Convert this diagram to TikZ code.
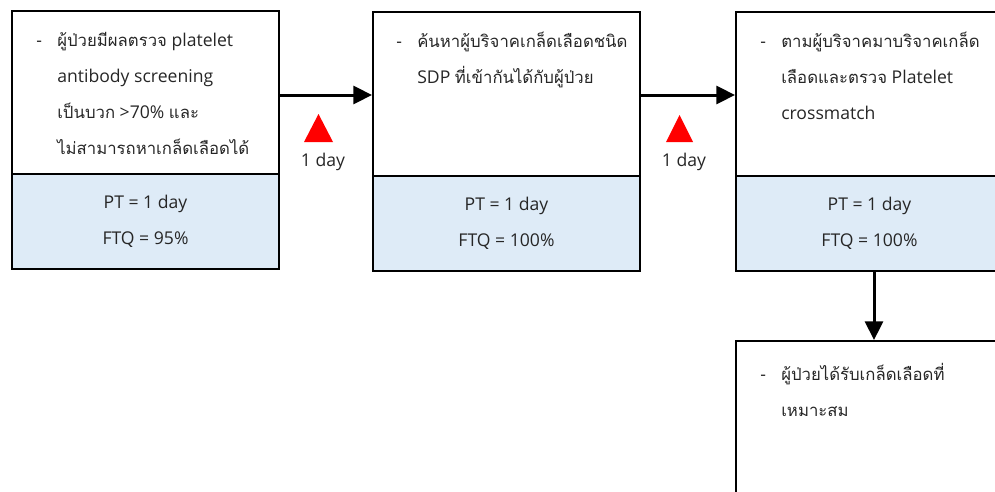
\documentclass[tikz,border=0pt]{standalone}
\usepackage{fontspec}
\setmainfont{Open Sans}
\newfontfamily\thaifont[Script=Thai,Scale=0.95]{Loma}
\newfontfamily\latinfont{Open Sans}
\XeTeXinterchartokenstate=1
\newXeTeXintercharclass\thaiclass
\count255="0E00
\loop\ifnum\count255<"0E80
  \XeTeXcharclass\count255=\thaiclass
  \advance\count255 by 1
\repeat
\XeTeXinterchartoks 0 \thaiclass = {\thaifont}
\XeTeXinterchartoks 4095 \thaiclass = {\thaifont}
\XeTeXinterchartoks \thaiclass 0 = {\latinfont}
\XeTeXinterchartoks \thaiclass 4095 = {\latinfont}
\usetikzlibrary{arrows.meta}
\definecolor{boxblue}{HTML}{DEEBF7}
\begin{document}
\begin{tikzpicture}[x=0.75pt,y=-0.75pt,
  every node/.style={font=\fontsize{13.2}{27}\selectfont, text=black!85},
  upper/.style={draw, line width=1.5pt, minimum width=200.25pt, inner sep=0pt, anchor=north west},
  lower/.style={draw, line width=1.5pt, fill=boxblue, minimum width=200.25pt, minimum height=71.25pt, inner sep=0pt, anchor=north west, align=center},
  txt/.style={anchor=north west, align=left, inner sep=0pt},
  flow/.style={line width=2.25pt, -{Triangle[length=14pt,width=13.5pt]}},
  delay/.style={fill=red}
]
\useasboundingbox (0,0) rectangle (995,492);
\clip (0,0) rectangle (995,492);
\newcommand{\dashitem}{\llap{\makebox[15.75pt][l]{-}}}
% box 1
\node[upper, minimum height=122.25pt] (u1) at (11,10) {};
\node[lower] (l1) at (11,173) {PT = 1 day\\FTQ = 95\%};
\node[txt] (t1) at (57,32) {\dashitem ผู้ป่วยมีผลตรวจ platelet\\antibody screening\\เป็นบวก >70\% และ\\ไม่สามารถหาเกล็ดเลือดได้};
% box 2
\node[upper, minimum height=123pt] (u2) at (372,11) {};
\node[lower] (l2) at (372,175) {PT = 1 day\\FTQ = 100\%};
\node[txt] (t2) at (417,32) {\dashitem ค้นหาผู้บริจาคเกล็ดเลือดชนิด\\SDP ที่เข้ากันได้กับผู้ป่วย};
% box 3
\node[upper, minimum height=123pt] (u3) at (735,11) {};
\node[lower] (l3) at (735,175) {PT = 1 day\\FTQ = 100\%};
\node[txt] (t3) at (781,32) {\dashitem ตามผู้บริจาคมาบริจาคเกล็ด\\เลือดและตรวจ Platelet\\crossmatch};
% box 4
\node[upper, minimum height=150pt] (u4) at (735,340) {};
\node[txt] (t4) at (781,363) {\dashitem ผู้ป่วยได้รับเกล็ดเลือดที่\\เหมาะสม};
% connectors
\draw[flow] (u1.east |- 0,95) -- (u2.west |- 0,95);
\draw[flow] (u2.east |- 0,95) -- (u3.west |- 0,95);
\draw[flow] (l3.south -| 874,0) -- (u4.north -| 874,0);
% delays
\fill[delay] (304,142) -- (318.5,114) -- (333,142) -- cycle;
\node (d1) at (323,162) {1 day};
\fill[delay] (666,142) -- (679.5,115) -- (693,142) -- cycle;
\node (d2) at (684,162) {1 day};
\end{tikzpicture}
\end{document}
